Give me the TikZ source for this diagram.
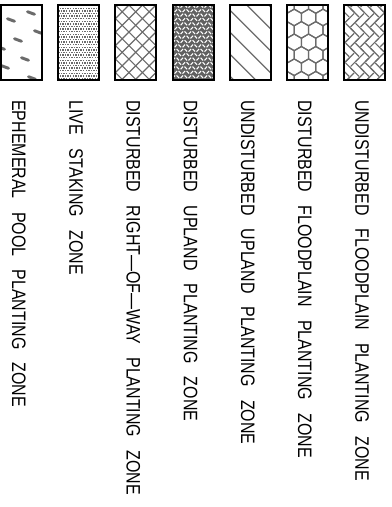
\documentclass[tikz,border=0pt]{standalone}
\usepackage{fontspec}
\setmainfont{Liberation Sans}[FakeStretch=0.82, WordSpace=3]
\usetikzlibrary{backgrounds}
\colorlet{colBorde}{black}
\colorlet{colTrama}{black!58}
\colorlet{colFondo}{black!62}
\tikzset{
  cajaMuestra/.style={
    draw=colBorde, line width=1.5pt, outer sep=0pt, inner sep=0pt,
    minimum width=30.75pt, minimum height=56.25pt
  },
  etiquetaZona/.style={
    rotate=-90, anchor=west, inner sep=0pt, text depth=0pt,
    font=\fontsize{14.6}{16}\selectfont
  },
  lineaTrama/.style={draw=colTrama, line width=0.9pt},
  marcaCharca/.style={draw=colTrama, line width=2.2pt, line cap=round},
  puntoEstaca/.style={fill=colTrama},
  trazoBlanco/.style={draw=white, line width=0.8pt},
}

\begin{document}
\begin{tikzpicture}[x=0.75pt, y=-0.75pt]
  \useasboundingbox (0,0) rectangle (392,507);

  \foreach \i/\x/\txt in {
      1/1/{EPHEMERAL POOL PLANTING ZONE},
      2/58.2/{LIVE STAKING ZONE},
      3/115.4/{DISTURBED RIGHT—OF—WAY PLANTING ZONE},
      4/172.6/{DISTURBED UPLAND PLANTING ZONE},
      5/229.8/{UNDISTURBED UPLAND PLANTING ZONE},
      6/287/{DISTURBED FLOODPLAIN PLANTING ZONE},
      7/344.2/{UNDISTURBED FLOODPLAIN PLANTING ZONE}
    }{
      \node[cajaMuestra] (m\i) at (\x+20.5,42.5) {};
      \node[etiquetaZona] (z\i) at (\x+18,100) {\txt};
    }

  \begin{scope}[on background layer]
    % charca efimera
    \begin{scope}[shift={(m1.north west)}]
      \clip (0,0) rectangle (41,75);
      \foreach \px/\py in {30/8, 10/15, 37/27, 17/35, 24/54, 4/62, 31/73, 0/43}
        \draw[marcaCharca] (\px-3.5,\py-1.3) -- (\px+3.5,\py+1.3);
    \end{scope}
    % estacas vivas
    \begin{scope}[shift={(m2.north west)}]
      \clip (0,0) rectangle (41,75);
      \foreach \r in {0,...,29}
        \foreach \c in {0,...,16}
          \fill[puntoEstaca] ({\c*2.6+1.3*mod(\r,2)}, \r*2.6) rectangle +(1.4,1.4);
    \end{scope}
    % derecho de via
    \begin{scope}[shift={(m3.north west)}]
      \clip (0,0) rectangle (41,75);
      \foreach \c in {-81,-67.5,...,41}
        \draw[lineaTrama] (\c,0) -- ++(80,80);
      \foreach \c in {0,13.5,...,122}
        \draw[lineaTrama] (\c,0) -- ++(-80,80);
    \end{scope}
    % tierra alta perturbada
    \begin{scope}[shift={(m4.north west)}]
      \clip (0,0) rectangle (41,75);
      \fill[colFondo] (0,0) rectangle (41,75);
      \foreach \r in {0,...,17}
        \foreach \c in {0,...,10}{
          \ifodd\c
            \draw[trazoBlanco] ({\c*4+2*mod(\r,2)}, \r*4.4) -- ++(2.5,2.6);
          \else
            \draw[trazoBlanco] ({\c*4+2*mod(\r,2)}, \r*4.4+2.6) -- ++(2.5,-2.6);
          \fi
        }
    \end{scope}
    % tierra alta sin perturbar
    \begin{scope}[shift={(m5.north west)}]
      \clip (0,0) rectangle (41,75);
      \foreach \c in {-71,-49,...,39}
        \draw[lineaTrama] (\c,0) -- ++(80,80);
    \end{scope}
    % llanura perturbada
    \begin{scope}[shift={(m6.north west)}]
      \clip (0,0) rectangle (41,75);
      \foreach \r in {-1,...,7}
        \foreach \c in {-1,...,3}
          \draw[lineaTrama] ({\c*14.4+7.2*mod(\r,2)}, \r*12.45)
            +(90:8.3) -- +(150:8.3) -- +(210:8.3) -- +(270:8.3)
            -- +(330:8.3) -- +(30:8.3) -- cycle;
    \end{scope}
    % llanura sin perturbar (espiga)
    \begin{scope}[shift={(m7.center)}]
      \clip (-20.5,-37.5) rectangle (20.5,37.5);
      \begin{scope}[rotate=45]
        \foreach \k in {-8,...,8}
          \foreach \m in {-4,...,4}{
            \draw[lineaTrama] (\k*7+\m*14+1,\k*7-\m*14) -- ++(12,0);
            \draw[lineaTrama] (\k*7+\m*14+1,\k*7-\m*14+7) -- ++(12,0);
            \draw[lineaTrama] (\k*7+\m*14-7,\k*7-\m*14+1) -- ++(0,12);
            \draw[lineaTrama] (\k*7+\m*14,\k*7-\m*14+1) -- ++(0,12);
          }
      \end{scope}
    \end{scope}
  \end{scope}
\end{tikzpicture}
\end{document}
